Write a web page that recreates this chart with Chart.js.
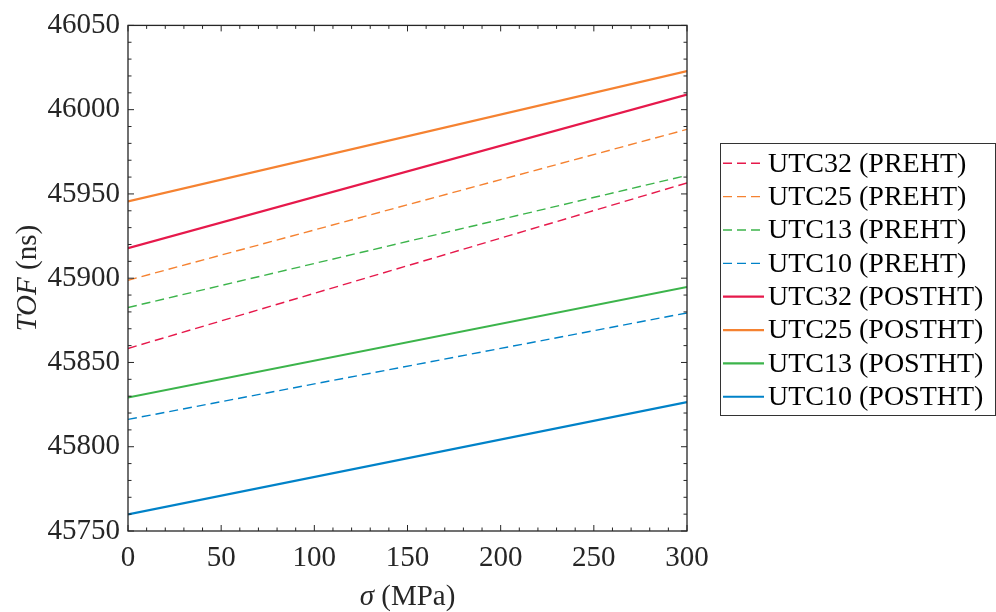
<!DOCTYPE html>
<html>
<head>
<meta charset="utf-8">
<script src="https://cdn.jsdelivr.net/npm/chart.js@4.4.0/dist/chart.umd.min.js"></script>
<style>
  html, body { margin: 0; padding: 0; background: #fff; }
  #wrap { width: 996px; height: 612px; }
</style>
</head>
<body>
<div id="wrap"><canvas id="chartCanvas" width="996" height="612"></canvas></div>
<script>
// Tension (MPa) at the two ends of each line
const sigma = [0, 300];

// TOF (ns) values
const utc32Pre = [45858.3, 45956.5];
const utc25Pre = [45898.8, 45988.3];
const utc13Pre = [45882.6, 45961.0];
const utc10Pre = [45816.2, 45879.4];
const utc32Post = [45917.8, 46008.9];
const utc25Post = [45945.6, 46022.9];
const utc13Post = [45829.2, 45894.8];
const utc10Post = [45759.9, 45826.5];

const labels = [
    'UTC32 (PREHT)', 'UTC25 (PREHT)', 'UTC13 (PREHT)', 'UTC10 (PREHT)',
    'UTC32 (POSTHT)', 'UTC25 (POSTHT)', 'UTC13 (POSTHT)', 'UTC10 (POSTHT)'
];

const xTicks = [0, 50, 100, 150, 200, 250, 300];
const yTicks = [45750, 45800, 45850, 45900, 45950, 46000, 46050];

// Colores
const red = '#E6194B';
const orange = '#F58231';
const green = '#3CB44B';
const blue = '#0082C8';

const FONT = "'Liberation Serif', 'Times New Roman', serif";
const INK = '#262626';

function serie(label, ys, color, dashed) {
    return {
        label: label,
        data: sigma.map((x, i) => ({ x: x, y: ys[i] })),
        borderColor: color,
        backgroundColor: color,
        borderWidth: dashed ? 1.4 : 2.2,
        borderDash: dashed ? [9, 5] : [],
        pointRadius: 0,
        tension: 0,
        fill: false
    };
}

const datasets = [
    serie(labels[0], utc32Pre, red, true),
    serie(labels[1], utc25Pre, orange, true),
    serie(labels[2], utc13Pre, green, true),
    serie(labels[3], utc10Pre, blue, true),
    serie(labels[4], utc32Post, red, false),
    serie(labels[5], utc25Post, orange, false),
    serie(labels[6], utc13Post, green, false),
    serie(labels[7], utc10Post, blue, false)
];

// Marco, ticks interiores, títulos de ejes y leyenda
const decor = {
    id: 'decor',
    afterDraw(chart) {
        const ctx = chart.ctx;
        const a = chart.chartArea;
        const xs = chart.scales.x;
        const ys = chart.scales.y;

        ctx.save();
        ctx.strokeStyle = INK;
        ctx.lineWidth = 1.3;
        ctx.strokeRect(a.left, a.top, a.right - a.left, a.bottom - a.top);

        ctx.lineWidth = 1;
        ctx.beginPath();
        for (let v = 0; v <= 300; v += 10) {
            const px = xs.getPixelForValue(v);
            const len = v % 50 === 0 ? 6 : 3.5;
            ctx.moveTo(px, a.bottom); ctx.lineTo(px, a.bottom - len);
            ctx.moveTo(px, a.top); ctx.lineTo(px, a.top + len);
        }
        for (let v = 45750; v <= 46050; v += 10) {
            const py = ys.getPixelForValue(v);
            const len = v % 50 === 0 ? 6 : 3.5;
            ctx.moveTo(a.left, py); ctx.lineTo(a.left + len, py);
            ctx.moveTo(a.right, py); ctx.lineTo(a.right - len, py);
        }
        ctx.stroke();

        // Título eje Y
        ctx.fillStyle = INK;
        ctx.textBaseline = 'middle';
        ctx.textAlign = 'left';
        ctx.translate(28, (a.top + a.bottom) / 2);
        ctx.rotate(-Math.PI / 2);
        ctx.font = 'italic 29px ' + FONT;
        const w1 = ctx.measureText('TOF').width;
        ctx.font = '29px ' + FONT;
        const w2 = ctx.measureText(' (ns)').width;
        let x0 = -(w1 + w2) / 2;
        ctx.font = 'italic 29px ' + FONT;
        ctx.fillText('TOF', x0, 0);
        ctx.font = '29px ' + FONT;
        ctx.fillText(' (ns)', x0 + w1, 0);
        ctx.setTransform(1, 0, 0, 1, 0, 0);

        // Título eje X
        ctx.font = 'italic 29px ' + FONT;
        const s1 = ctx.measureText('σ').width;
        ctx.font = '29px ' + FONT;
        const s2 = ctx.measureText(' (MPa)').width;
        x0 = (a.left + a.right) / 2 - (s1 + s2) / 2;
        ctx.font = 'italic 29px ' + FONT;
        ctx.fillText('σ', x0, 597);
        ctx.font = '29px ' + FONT;
        ctx.fillText(' (MPa)', x0 + s1, 597);

        // Leyenda
        const lx = 720, ly = 143, lw = 275, lh = 272;
        ctx.fillStyle = '#fff';
        ctx.fillRect(lx, ly, lw, lh);
        ctx.strokeStyle = '#333';
        ctx.lineWidth = 1;
        ctx.strokeRect(lx + 0.5, ly + 0.5, lw, lh);
        ctx.font = '28px ' + FONT;
        chart.data.datasets.forEach((ds, i) => {
            const cy = 163.3 + i * 33.35;
            ctx.strokeStyle = ds.borderColor;
            ctx.lineWidth = ds.borderWidth;
            ctx.setLineDash(ds.borderDash);
            ctx.beginPath();
            ctx.moveTo(723, cy);
            ctx.lineTo(764, cy);
            ctx.stroke();
            ctx.setLineDash([]);
            ctx.fillStyle = '#000';
            ctx.fillText(ds.label, 768, cy + 1);
        });
        ctx.restore();
    }
};

const ctx = document.getElementById('chartCanvas').getContext('2d');
const chart = new Chart(ctx, {
    type: 'line',
    data: { datasets: datasets },
    options: {
        responsive: false,
        animation: false,
        events: [],
        layout: { padding: { top: 25, right: 309, left: 0, bottom: 0 } },
        plugins: {
            legend: { display: false },
            tooltip: { enabled: false }
        },
        scales: {
            x: {
                type: 'linear',
                min: 0,
                max: 300,
                afterBuildTicks: s => { s.ticks = xTicks.map(v => ({ value: v })); },
                afterFit: s => { s.height = 81; },
                grid: { display: false, drawTicks: false },
                border: { display: false },
                ticks: {
                    color: INK,
                    padding: 10,
                    maxRotation: 0,
                    callback: v => String(v),
                    font: { family: FONT, size: 29 }
                }
            },
            y: {
                type: 'linear',
                min: 45750,
                max: 46050,
                afterBuildTicks: s => { s.ticks = yTicks.map(v => ({ value: v })); },
                afterFit: s => { s.width = 128; },
                grid: { display: false, drawTicks: false },
                border: { display: false },
                ticks: {
                    color: INK,
                    padding: 8,
                    callback: v => String(v),
                    font: { family: FONT, size: 29 }
                }
            }
        }
    },
    plugins: [decor]
});
</script>
</body>
</html>
